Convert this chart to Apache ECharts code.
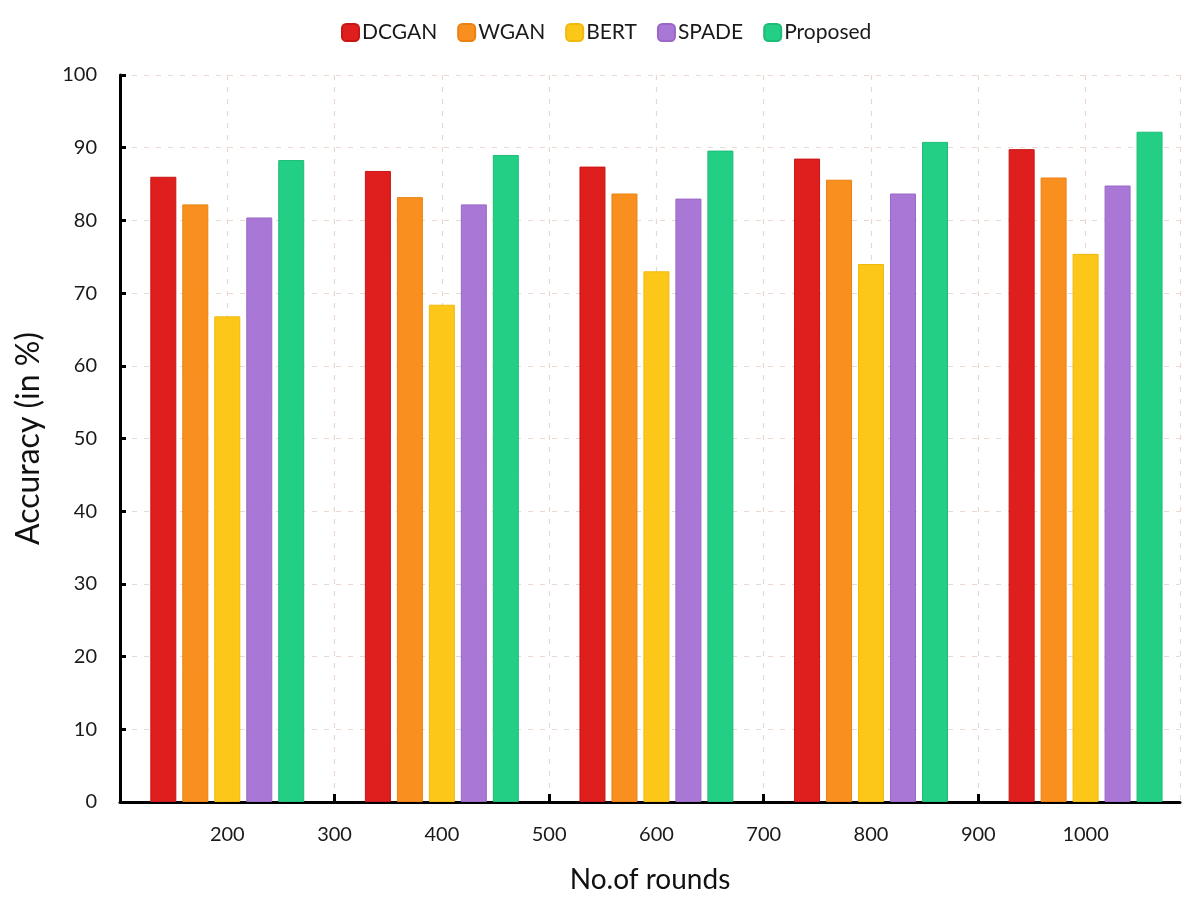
<!DOCTYPE html>
<html>
<head>
<meta charset="utf-8">
<script src="https://cdn.jsdelivr.net/npm/echarts@6/dist/echarts.min.js"></script>
<style>
html,body{margin:0;padding:0;background:#fff;overflow:hidden;}
#chart{width:1184px;height:897px;}
</style>
</head>
<body>
<div id="chart"></div>
<script>
const rounds = [200, 400, 600, 800, 1000];
const seriesNames = ['DCGAN', 'WGAN', 'BERT', 'SPADE', 'Proposed'];
const dcgan = [86.0, 86.8, 87.4, 88.5, 89.8];
const wgan = [82.2, 83.2, 83.7, 85.6, 85.9];
const bert = [66.8, 68.4, 73.0, 74.0, 75.4];
const spade = [80.4, 82.2, 83.0, 83.7, 84.8];
const proposed = [88.3, 89.0, 89.6, 90.8, 92.2];
const colors = ['#df1e1e', '#f88f1f', '#fcc718', '#a977d5', '#23cf84'];
const borders = ['#c81616', '#ea8213', '#f0b90c', '#9a68c6', '#1cbd76'];

const allValues = [dcgan, wgan, bert, spade, proposed];
const FONT = 'Lato';

const chart = echarts.init(document.getElementById('chart'));
chart.setOption({
  animation: false,
  backgroundColor: '#ffffff',
  legend: {
    top: 17,
    left: 336,
    icon: 'roundRect',
    itemWidth: 17,
    itemHeight: 17,
    itemGap: 20,
    textStyle: { fontFamily: FONT, fontSize: 21, color: '#1a1a1a', padding: [0, 0, 0, -2] },
    data: seriesNames
  },
  grid: { left: 120, right: 4, top: 75, bottom: 95, containLabel: false, outerBoundsMode: 'none' },
  xAxis: {
    type: 'value',
    min: 100,
    max: 1088,
    interval: 100,
    name: 'No.of rounds',
    nameLocation: 'middle',
    nameGap: 64,
    nameTextStyle: { fontFamily: FONT, fontSize: 28, color: '#111' },
    axisLine: { show: true, onZero: false, lineStyle: { color: '#000', width: 3 } },
    axisTick: { show: true, inside: true, length: 8, lineStyle: { color: '#000', width: 3 } },
    axisLabel: { fontFamily: FONT, fontSize: 20, color: '#1a1a1a', margin: 23, showMinLabel: false, showMaxLabel: false,
      formatter: function (v) { return String(v); } },
    splitLine: { show: true, lineStyle: { color: '#ead8d0', type: [5, 7], width: 1.2 } }
  },
  yAxis: {
    type: 'value',
    min: 0,
    max: 100,
    interval: 10,
    name: 'Accuracy (in %)',
    nameLocation: 'middle',
    nameGap: 75,
    nameRotate: 90,
    nameTextStyle: { fontFamily: FONT, fontSize: 32, color: '#111' },
    axisLine: { show: true, lineStyle: { color: '#000', width: 3 } },
    axisTick: { show: true, inside: true, length: 6, lineStyle: { color: '#000', width: 3 } },
    axisLabel: { fontFamily: FONT, fontSize: 20, color: '#1a1a1a', margin: 23 },
    splitLine: { show: true, lineStyle: { color: '#ead8d0', type: [5, 7], width: 1.2 } }
  },
  series: seriesNames.map((name, i) => ({
    name: name,
    type: 'bar',
    barWidth: 26,
    barGap: '23%',
    itemStyle: { color: colors[i], borderColor: borders[i], borderWidth: 1 },
    data: rounds.map((r, j) => [r, allValues[i][j]])
  }))
});
</script>
</body>
</html>
